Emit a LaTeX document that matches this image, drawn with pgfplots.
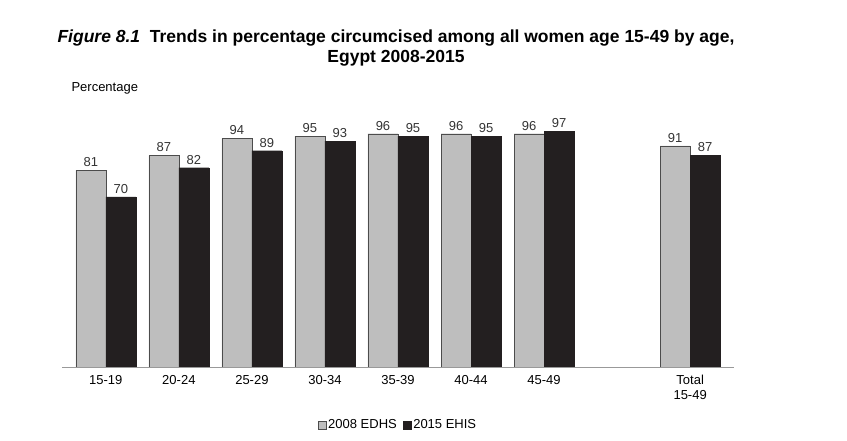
\documentclass[border=0pt]{standalone}
\usepackage{pgfplots}
\pgfplotsset{compat=1.18}
\usepackage{fontspec}
\setmainfont{Liberation Sans}
\definecolor{g1}{HTML}{BEBEBE}
\definecolor{k1}{HTML}{231F20}
\begin{document}
\begin{tikzpicture}[x=1pt,y=1pt]
\path (0,0) rectangle (847,441);
\node[font=\bfseries\fontsize{17.5}{20}\selectfont,align=center] at (396,393) {\textit{Figure 8.1}\ \ Trends in percentage circumcised among all women age 15-49 by age,\\Egypt 2008-2015};
\node[font=\fontsize{13}{15}\selectfont,anchor=west] at (68,353) {Percentage};
\begin{axis}[at={(62pt,74pt)},anchor=south west,scale only axis,width=672pt,height=243pt,
  ymin=0,ymax=100,xmin=-0.6,xmax=8.6,
  /pgf/number format/assume math mode=true,
  axis y line=none, axis x line*=bottom, x axis line style={black!40,-},
  xtick={0,1,2,3,4,5,6,8},
  xticklabels={15-19,20-24,25-29,30-34,35-39,40-44,45-49,{Total\\15-49}},
  xticklabel style={align=center,font=\fontsize{13}{15}\selectfont,yshift=-5pt},
  major tick length=0pt,
  ybar=0pt,bar width=30pt,
  nodes near coords,
  every node near coord/.append style={font=\fontsize{13}{15}\selectfont,text=black!80},
  legend style={at={(0.5,-0.2)},anchor=north,draw=none,legend columns=2,font=\fontsize{13}{15}\selectfont,/tikz/every even column/.append style={column sep=4pt}},
  legend image code/.code={\draw[#1] (0pt,-4pt) rectangle (8pt,4pt);},
]
\addplot[fill=g1,draw=black!70] coordinates {(0,81)(1,87)(2,94)(3,95)(4,96)(5,96)(6,96)(8,91)};
\addplot[fill=k1,draw=k1] coordinates {(0,70)(1,82)(2,89)(3,93)(4,95)(5,95)(6,97)(8,87)};
\legend{2008 EDHS,2015 EHIS}
\end{axis}
\end{tikzpicture}
\end{document}
